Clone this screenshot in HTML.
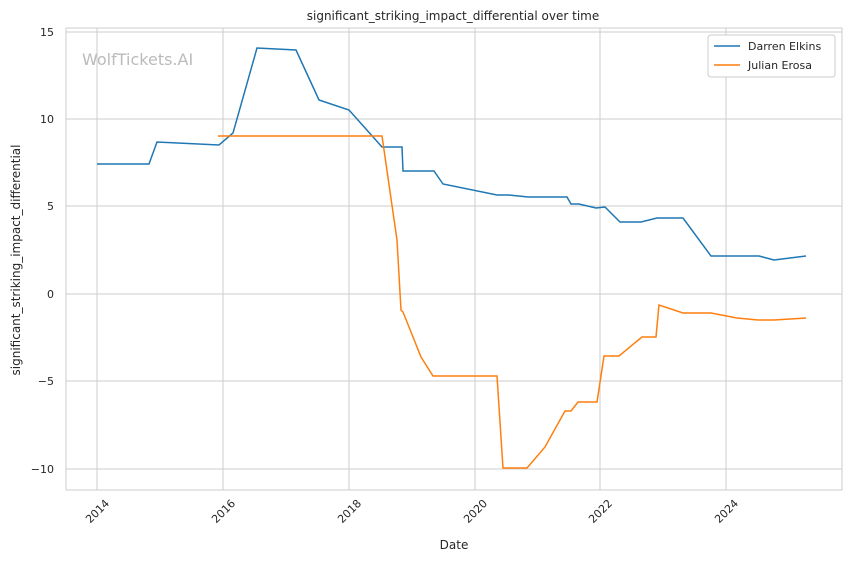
<!DOCTYPE html>
<html><head><meta charset="utf-8"><style>
body{margin:0;background:#fff;}
svg text{font-family:"DejaVu Sans","Liberation Sans",sans-serif;fill:#262626;}
</style></head><body>
<svg width="850" height="561" xmlns="http://www.w3.org/2000/svg">
<rect width="850" height="561" fill="#fff"/>
<g stroke="#cccccc" stroke-width="1">
<line x1="97" y1="28" x2="97" y2="490"/><line x1="223" y1="28" x2="223" y2="490"/><line x1="349" y1="28" x2="349" y2="490"/><line x1="475" y1="28" x2="475" y2="490"/><line x1="600" y1="28" x2="600" y2="490"/><line x1="726" y1="28" x2="726" y2="490"/>
<line x1="66" y1="32" x2="842" y2="32"/><line x1="66" y1="119" x2="842" y2="119"/><line x1="66" y1="206" x2="842" y2="206"/><line x1="66" y1="294" x2="842" y2="294"/><line x1="66" y1="381" x2="842" y2="381"/><line x1="66" y1="469" x2="842" y2="469"/>
</g>
<rect x="66" y="28" width="776" height="462" fill="none" stroke="#cccccc" stroke-width="1"/>
<text x="453" y="20" font-size="12" text-anchor="middle">significant_striking_impact_differential over time</text>
<text x="82" y="65" font-size="16" style="fill:#bbbbbb">WolfTickets.AI</text>
<g font-size="11" text-anchor="end">
<text x="54" y="36">15</text><text x="54" y="123">10</text><text x="54" y="210">5</text><text x="54" y="298">0</text><text x="54" y="385">−5</text><text x="54" y="473">−10</text>
</g>
<g font-size="11" text-anchor="end">
<text transform="translate(110,504) rotate(-45)">2014</text>
<text transform="translate(236,504) rotate(-45)">2016</text>
<text transform="translate(362,504) rotate(-45)">2018</text>
<text transform="translate(488,504) rotate(-45)">2020</text>
<text transform="translate(613,504) rotate(-45)">2022</text>
<text transform="translate(739,504) rotate(-45)">2024</text>
</g>
<text x="454" y="549" font-size="12" text-anchor="middle">Date</text>
<text transform="translate(20,260) rotate(-90)" font-size="12" text-anchor="middle">significant_striking_impact_differential</text>
<polyline fill="none" stroke="#1f77b4" stroke-width="1.5" points="97,164 149,164 157,142 219,145 233,133 257,48 296,50 319,100 349,110 382,147 402,147 403,171 434,171 443,184 497,195 509,195 528,197 567,197 571,204 579,204 596,208 605,207 620,222 641,222 657,218 683,218 711,256 759,256 774,260 806,256"/>
<polyline fill="none" stroke="#ff7f0e" stroke-width="1.5" points="218,136 382,136 397,240 401,310 403,312 421,357 433,376 497,376 503,468 527,468 545,447 565,411 571,411 578,402 597,402 604,356 619,356 642,337 656,337 659,305 683,313 711,313 737,318 758,320 774,320 806,318"/>
<rect x="708" y="35" width="127" height="42" fill="#fff" stroke="#cccccc" rx="3"/>
<line x1="714" y1="46" x2="740" y2="46" stroke="#1f77b4" stroke-width="1.5"/>
<text x="748" y="50" font-size="11">Darren Elkins</text>
<line x1="714" y1="65" x2="740" y2="65" stroke="#ff7f0e" stroke-width="1.5"/>
<text x="748" y="69" font-size="11">Julian Erosa</text>
</svg>
</body></html>
